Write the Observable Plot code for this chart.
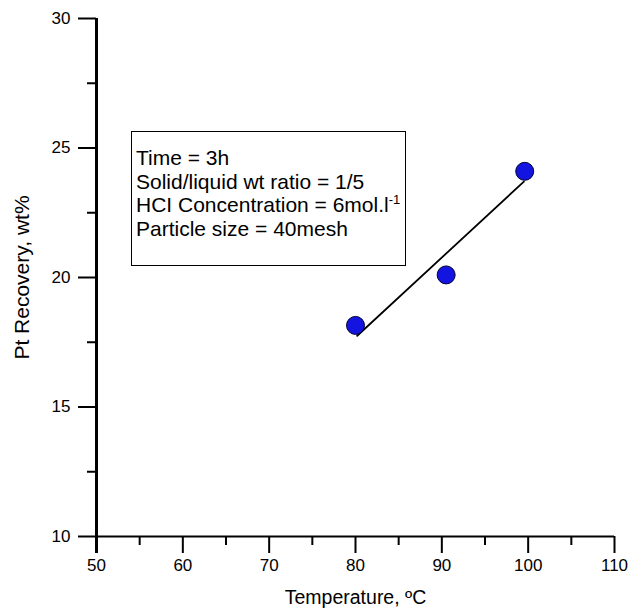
<!DOCTYPE html>
<html>
<head>
<meta charset="utf-8">
<script src="https://cdn.jsdelivr.net/npm/d3@7"></script>
<script src="https://cdn.jsdelivr.net/npm/@observablehq/plot@0.6"></script>
<style>
  body { margin: 0; background: #fff; }
  #wrap { position: relative; width: 642px; height: 608px; font-family: "Liberation Sans", Arial, sans-serif; }
  #note { position: absolute; left: 131px; top: 131px; width: 275px; height: 135px; border: 1.5px solid #000;
          box-sizing: border-box; font-size: 21px; line-height: 23.7px; padding: 14px 0 0 4px; color: #000; background: #fff; }
  #note sup { font-size: 13px; line-height: 0; vertical-align: 8px; }
</style>
</head>
<body>
<div id="wrap">
  <div id="chart"></div>
  <div id="note"></div>
</div>
<script>
// Data
const temperature = [80, 90.5, 99.6];          // °C
const recovery = [18.15, 20.1, 24.1];          // Pt recovery, wt%
const fitTemperature = [80.2, 99.5];           // fitted line ends
const fitRecovery = [17.75, 23.7];
const xTicks = [50, 60, 70, 80, 90, 100, 110];
const xMinorTicks = [55, 65, 75, 85, 95, 105];
const yTicks = [10, 15, 20, 25, 30];
const yMinorTicks = [12.5, 17.5, 22.5, 27.5];
const xTitle = "Temperature, ºC";
const yTitle = "Pt Recovery, wt%";
const noteLines = ["Time = 3h", "Solid/liquid wt ratio = 1/5", "HCI Concentration = 6mol.l", "Particle size = 40mesh"];
const noteSup = ["", "", "-1", ""];

const points = temperature.map((t, i) => ({t, r: recovery[i]}));
const fit = fitTemperature.map((t, i) => ({t, r: fitRecovery[i]}));

const chart = Plot.plot({
  width: 642,
  height: 608,
  marginLeft: 96,
  marginRight: 28,
  marginTop: 18,
  marginBottom: 72,
  style: {fontFamily: "'Liberation Sans', Arial, sans-serif", fontSize: "17px", color: "#000", background: "#fff"},
  x: {domain: [50, 110]},
  y: {domain: [10, 30]},
  marks: [
    // x axis: major ticks, minor ticks, labels
    Plot.axisX(xTicks, {tickSize: 17, text: null, label: null, strokeWidth: 2}),
    Plot.axisX(xMinorTicks, {tickSize: 9, text: null, label: null, strokeWidth: 2}),
    Plot.axisX([50], {tickSize: 17, text: null, label: null, strokeWidth: 3}),
    Plot.axisX(xTicks, {tickSize: 0, tickPadding: 22, label: null, fontSize: 17}),
    // y axis: major ticks, minor ticks, labels
    Plot.axisY(yTicks, {tickSize: 18, text: null, label: null, strokeWidth: 2}),
    Plot.axisY(yMinorTicks, {tickSize: 9, text: null, label: null, strokeWidth: 2}),
    Plot.axisY(yTicks, {tickSize: 0, tickPadding: 26, label: null, fontSize: 17}),
    // axis lines
    Plot.ruleY([10], {strokeWidth: 2}),
    Plot.ruleX([50], {strokeWidth: 3}),
    // fitted line and data points
    Plot.line(fit, {x: "t", y: "r", stroke: "#000", strokeWidth: 1.8}),
    Plot.dot(points, {x: "t", y: "r", r: 9, fill: "#1414e0", stroke: "#000030", strokeWidth: 1}),
    // axis titles
    Plot.text([xTitle], {frameAnchor: "bottom", dy: 61, fontSize: 19.5, lineAnchor: "middle", textAnchor: "middle"}),
    Plot.text([yTitle], {frameAnchor: "left", dx: -74, rotate: -90, fontSize: 21, lineAnchor: "middle", textAnchor: "middle"})
  ]
});
// drop the empty label elements left by the tick-only axes
chart.querySelectorAll("text").forEach(t => { if (!t.textContent.trim()) t.remove(); });
document.getElementById("chart").appendChild(chart);

const note = document.getElementById("note");
noteLines.forEach((line, i) => {
  const div = document.createElement("div");
  div.textContent = line;
  if (noteSup[i]) {
    const s = document.createElement("sup");
    s.textContent = noteSup[i];
    div.appendChild(s);
  }
  note.appendChild(div);
});
</script>
</body>
</html>
